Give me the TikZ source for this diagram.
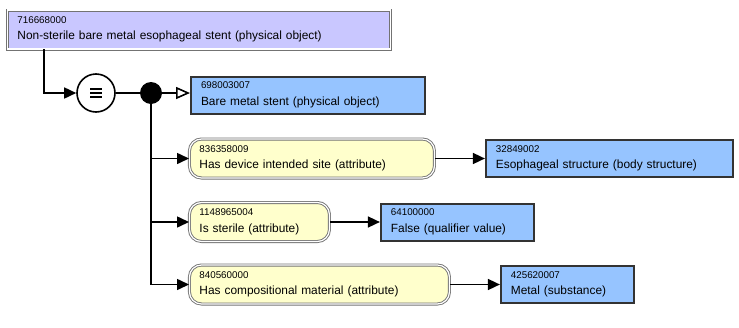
\documentclass[tikz,border=0pt]{standalone}
\usepackage{fontspec}
\setmainfont{Liberation Sans}
\usetikzlibrary{positioning, arrows.meta}
\definecolor{definedfill}{RGB}{201,199,255}
\definecolor{primitivefill}{RGB}{150,196,255}
\definecolor{attrfill}{RGB}{255,255,204}
% concept id on a small first line, description below
\newcommand{\sctid}[2]{{\fontsize{9.8}{11}\selectfont #1}\\#2}

\begin{document}
\begin{tikzpicture}[
    x=1pt, y=-1pt,
    node distance=50pt,
    every node/.style={font=\fontsize{11.9}{16.5}\selectfont, inner xsep=10pt, inner ysep=0pt, align=left},
    definedbox/.style={draw=black!55, double=white, double distance=1.2pt, line width=0.9pt, fill=definedfill, minimum height=39pt},
    primitivebox/.style={draw=black!80, line width=2pt, fill=primitivefill, minimum height=37pt},
    attribute/.style={draw=black!55, double=white, double distance=1.2pt, line width=0.9pt, fill=attrfill, rounded corners=12pt, minimum height=39pt},
    equivnode/.style={draw, circle, line width=1.6pt, fill=white, minimum size=38pt, inner sep=0pt,
        path picture={\foreach \d in {-4.2,0,4.2}
            \draw[line width=2pt] ([shift={(-6pt,\d pt)}]path picture bounding box.center) -- ++(12pt,0pt);}},
    conjunction/.style={circle, fill=black, minimum size=22pt, inner sep=0pt},
    link/.style={line width=1.6pt},
    arrow/.style={link, -{Triangle[length=12pt, width=11pt]}},
    isa/.style={link, -{Triangle[open, length=14pt, width=12pt, fill=white]}}
]
\useasboundingbox (0,0) rectangle (739,327);

\node[definedbox, text width=363pt, anchor=west] (concept) at (7,29.5) {\sctid{716668000}{Non-sterile bare metal esophageal stent (physical object)}};
\node[equivnode] (equiv) at (96,93) {};
\node[conjunction] (conj) at (151,93) {};
\node[primitivebox, text width=214pt, anchor=west] (parent) at (190,95) {\sctid{698003007}{Bare metal stent (physical object)}};

% attribute group
\node[attribute, text width=225pt, anchor=west] (site) at (189,158.5) {\sctid{836358009}{Has device intended site (attribute)}};
\node[attribute, text width=120pt, anchor=west] (sterile) at (189,222) {\sctid{1148965004}{Is sterile (attribute)}};
\node[attribute, text width=240pt, anchor=west] (material) at (189,284.5) {\sctid{840560000}{Has compositional material (attribute)}};

\node[primitivebox, text width=227pt, right=of site] (siteval) {\sctid{32849002}{Esophageal structure (body structure)}};
\node[primitivebox, text width=133pt, right=of sterile] (sterileval) {\sctid{64100000}{False (qualifier value)}};
\node[primitivebox, text width=113pt, right=of material] (materialval) {\sctid{425620007}{Metal (substance)}};

\draw[arrow] ([xshift=37pt]concept.south west) |- (equiv);
\draw[link] (equiv) -- (conj);
\draw[isa] (conj) -- (conj -| parent.west);
\draw[arrow] (conj) |- (site);
\draw[arrow] (conj) |- (sterile);
\draw[arrow] (conj) |- (material);

\draw[arrow] (site) -- (siteval);
\draw[arrow] (sterile) -- (sterileval);
\draw[arrow] (material) -- (materialval);
\end{tikzpicture}
\end{document}
